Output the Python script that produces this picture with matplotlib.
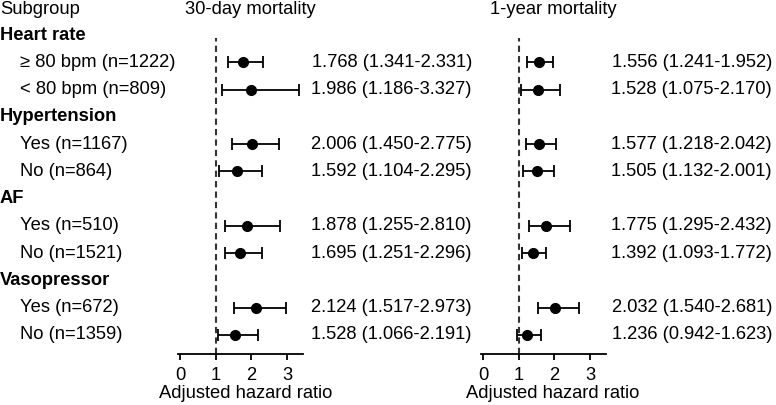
import numpy as np
import matplotlib
matplotlib.use("Agg")
import matplotlib.pyplot as plt
import matplotlib.transforms as mtransforms

plt.rcParams['font.family'] = ['Liberation Sans', 'DejaVu Sans']

# rows, top to bottom (None = group header)
labels = ["Heart rate", "\u2265 80 bpm (n=1222)", "< 80 bpm (n=809)",
          "Hypertension", "Yes (n=1167)", "No (n=864)",
          "AF", "Yes (n=510)", "No (n=1521)",
          "Vasopressor", "Yes (n=672)", "No (n=1359)"]
is_header = [True, False, False, True, False, False,
             True, False, False, True, False, False]

# 30-day mortality
hr30 = [None, 1.768, 1.986, None, 2.006, 1.592, None, 1.878, 1.695, None, 2.124, 1.528]
lo30 = [None, 1.341, 1.186, None, 1.450, 1.104, None, 1.255, 1.251, None, 1.517, 1.066]
hi30 = [None, 2.331, 3.327, None, 2.775, 2.295, None, 2.810, 2.296, None, 2.973, 2.191]

# 1-year mortality
hr1y = [None, 1.556, 1.528, None, 1.577, 1.505, None, 1.775, 1.392, None, 2.032, 1.236]
lo1y = [None, 1.241, 1.075, None, 1.218, 1.132, None, 1.295, 1.093, None, 1.540, 0.942]
hi1y = [None, 1.952, 2.170, None, 2.042, 2.001, None, 2.432, 1.772, None, 2.681, 1.623]

xticks = [0, 1, 2, 3]

FS = 13.2
W, H = 776, 405
fig = plt.figure(figsize=(W / 100, H / 100), dpi=100)

# pixel layout helpers
row0, rowstep = 35.0, 27.27
ax_top, ax_bot = 38.0, 354.0
ylim = ((ax_bot - row0) / rowstep, (ax_top - row0) / rowstep)
unit = 35.67
xlim = (-0.05, 3.45)


def make_ax(x0_px):
    left = x0_px + xlim[0] * unit
    width = (xlim[1] - xlim[0]) * unit
    ax = fig.add_axes([left / W, (H - ax_bot) / H, width / W, (ax_bot - ax_top) / H])
    ax.set_xlim(*xlim)
    ax.set_ylim(*ylim)
    for s in ["top", "right", "left"]:
        ax.spines[s].set_visible(False)
    ax.spines["bottom"].set_linewidth(1.3)
    ax.set_yticks([])
    ax.set_xticks(xticks)
    ax.tick_params(axis="x", direction="out", length=4, width=1.3, pad=5, labelsize=FS)
    ax.patch.set_alpha(0)
    return ax


def draw_panel(ax, hr, lo, hi, text_right):
    ax.axvline(1, color="#333333", lw=1.5, ls=(0, (3, 2)), zorder=1)
    trans = mtransforms.blended_transform_factory(fig.transFigure, ax.transData)
    for i in range(len(labels)):
        if hr[i] is None:
            continue
        ax.errorbar(hr[i], i, xerr=[[hr[i] - lo[i]], [hi[i] - hr[i]]],
                    fmt="o", color="black", ms=7, elinewidth=1.3,
                    capsize=4, capthick=1.3, zorder=3)
        ax.text(text_right / W, i, f"{hr[i]:.3f} ({lo[i]:.3f}-{hi[i]:.3f})",
                transform=trans, ha="right", va="center", fontsize=FS)


ax1 = make_ax(180.0)
ax2 = make_ax(483.0)
draw_panel(ax1, hr30, lo30, hi30, 472)
draw_panel(ax2, hr1y, lo1y, hi1y, 772)

# subgroup labels
trans = mtransforms.blended_transform_factory(fig.transFigure, ax1.transData)
for i, lab in enumerate(labels):
    if is_header[i]:
        ax1.text(0 / W, i, lab, transform=trans, ha="left", va="center",
                 fontsize=FS, fontweight="bold", clip_on=False)
    else:
        ax1.text(20 / W, i, lab, transform=trans, ha="left", va="center",
                 fontsize=FS, clip_on=False)

fig.text(0 / W, 1 - 9 / H, "Subgroup", ha="left", va="center", fontsize=FS)
fig.text(185 / W, 1 - 9 / H, "30-day mortality", ha="left", va="center", fontsize=FS)
fig.text(490 / W, 1 - 9 / H, "1-year mortality", ha="left", va="center", fontsize=FS)
fig.text(246 / W, 1 - 393 / H, "Adjusted hazard ratio", ha="center", va="center", fontsize=FS)
fig.text(553 / W, 1 - 393 / H, "Adjusted hazard ratio", ha="center", va="center", fontsize=FS)

fig.savefig("out.png", dpi=100)
